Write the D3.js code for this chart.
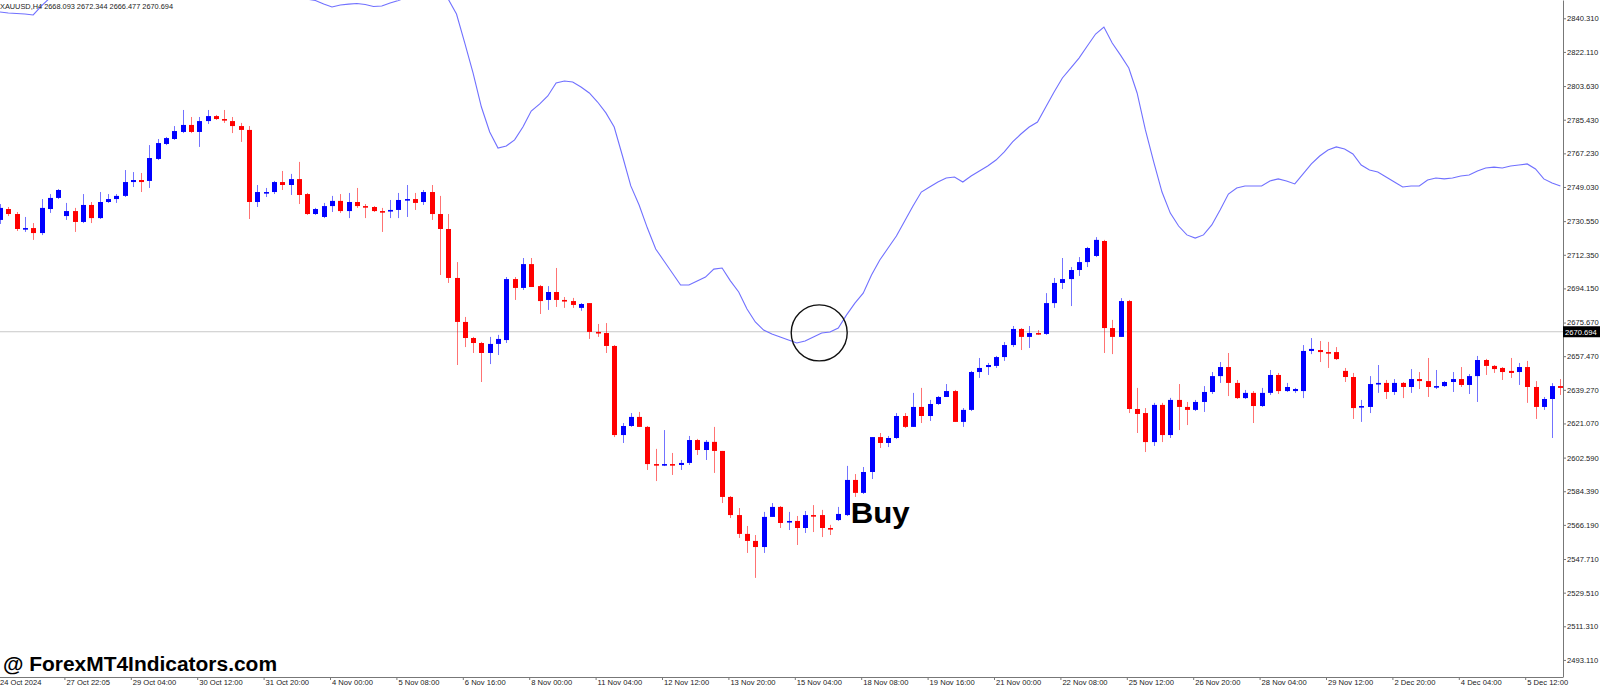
<!DOCTYPE html>
<html>
<head>
<meta charset="utf-8">
<script src="https://d3js.org/d3.v7.min.js"></script>
<style>
  body { margin: 0; background: #fff; }
  #chart { width: 1600px; height: 689px; }
  text { font-family: "Liberation Sans", Arial, sans-serif; }
  .axis text { fill: #222; font-size: 7.6px; }
  .axis line { stroke: #777; }
  .axis path { stroke: #777; }
</style>
</head>
<body>
<div id="chart"></div>
<script>
// ---- data ----
const symbol = "XAUUSD,H4";
const lastQuote = ["2668.093", "2672.344", "2666.477", "2670.694"];
const bidPrice = 2670.694;

// one label every 8 bars (32 hours)
const dateLabels = ["24 Oct 2024", "27 Oct 22:05", "29 Oct 04:00", "30 Oct 12:00", "31 Oct 20:00",
  "4 Nov 00:00", "5 Nov 08:00", "6 Nov 16:00", "8 Nov 00:00", "11 Nov 04:00", "12 Nov 12:00",
  "13 Nov 20:00", "15 Nov 04:00", "18 Nov 08:00", "19 Nov 16:00", "21 Nov 00:00", "22 Nov 08:00",
  "25 Nov 12:00", "26 Nov 20:00", "28 Nov 04:00", "29 Nov 12:00", "2 Dec 20:00", "4 Dec 04:00",
  "5 Dec 12:00"];

const priceTicks = ["2840.310", "2822.110", "2803.630", "2785.430", "2767.230", "2749.030",
  "2730.550", "2712.350", "2694.150", "2675.670", "2657.470", "2639.270", "2621.070", "2602.590",
  "2584.390", "2566.190", "2547.710", "2529.510", "2511.310", "2493.110"];

const opens = [
  2731.2, 2737.1, 2734.4, 2726.3, 2726.8, 2724.1, 2737.1, 2743.1, 2733.3, 2736.0,
  2730.1, 2739.3, 2732.2, 2740.9, 2742.5, 2744.2, 2751.7, 2752.8, 2752.3, 2764.2,
  2772.3, 2775.0, 2778.8, 2782.6, 2778.8, 2784.7, 2787.4, 2785.8, 2784.7, 2782.0,
  2779.9, 2740.9, 2745.8, 2746.3, 2751.7, 2750.1, 2753.3, 2745.2, 2734.4, 2732.8,
  2738.7, 2741.5, 2736.0, 2740.9, 2738.7, 2738.2, 2736.0, 2736.0, 2736.6, 2742.0,
  2742.5, 2740.9, 2746.3, 2734.4, 2726.3, 2699.8, 2676.0, 2667.3, 2664.6, 2659.2,
  2664.1, 2666.2, 2699.2, 2694.4, 2707.3, 2695.4, 2687.9, 2692.2, 2687.9, 2687.3,
  2683.6, 2686.2, 2670.6, 2670.0, 2663.0, 2614.8, 2619.7, 2624.6, 2619.2, 2599.1,
  2598.6, 2599.1, 2598.6, 2599.7, 2612.1, 2606.7, 2611.1, 2606.2, 2581.3, 2571.5,
  2561.3, 2557.5, 2554.2, 2570.5, 2575.9, 2567.7, 2568.3, 2564.5, 2571.5, 2571.5,
  2564.5, 2568.8, 2571.5, 2590.5, 2583.5, 2594.8, 2613.7, 2610.5, 2613.2, 2625.1,
  2619.2, 2630.0, 2625.1, 2631.6, 2635.4, 2638.6, 2621.9, 2628.4, 2648.9, 2651.6,
  2652.2, 2657.0, 2663.5, 2672.2, 2667.9, 2670.0, 2669.5, 2686.2, 2697.1, 2699.2,
  2704.1, 2708.4, 2711.7, 2719.8, 2672.7, 2667.9, 2687.3, 2628.9, 2626.7, 2611.0,
  2631.1, 2614.8, 2633.8, 2630.0, 2628.4, 2632.7, 2638.1, 2646.7, 2651.6, 2643.0,
  2634.8, 2637.6, 2630.5, 2637.6, 2647.3, 2638.6, 2638.6, 2638.6, 2660.3, 2660.8,
  2659.7, 2659.7, 2649.5, 2646.2, 2630.0, 2630.0, 2642.4, 2643.0, 2638.1, 2643.0,
  2640.8, 2645.1, 2644.0, 2640.8, 2641.3, 2643.5, 2645.1, 2641.9, 2646.7, 2655.4,
  2652.2, 2651.1, 2649.5, 2648.9, 2651.6, 2640.8, 2630.0, 2634.3, 2641.3];

const highs = [
  2739.8, 2738.2, 2735.5, 2732.8, 2729.5, 2742.5, 2745.2, 2747.9, 2740.4, 2737.7,
  2745.2, 2740.9, 2746.3, 2745.2, 2745.2, 2758.2, 2757.1, 2756.6, 2771.7, 2775.0,
  2776.1, 2782.0, 2790.7, 2786.9, 2786.9, 2790.7, 2788.0, 2790.7, 2786.9, 2783.7,
  2782.0, 2750.1, 2748.5, 2752.3, 2757.7, 2756.1, 2762.6, 2745.8, 2737.7, 2740.4,
  2744.2, 2745.2, 2745.8, 2748.5, 2739.8, 2738.7, 2737.7, 2742.0, 2745.8, 2750.1,
  2745.8, 2747.4, 2750.1, 2744.2, 2734.4, 2708.4, 2678.7, 2667.9, 2665.2, 2667.9,
  2669.0, 2700.3, 2700.3, 2710.6, 2710.6, 2696.0, 2695.4, 2705.2, 2689.5, 2689.0,
  2686.2, 2686.2, 2674.9, 2675.4, 2663.5, 2621.3, 2626.7, 2627.3, 2619.7, 2607.3,
  2617.5, 2605.1, 2601.3, 2614.3, 2612.7, 2612.1, 2619.2, 2606.2, 2581.8, 2575.3,
  2565.6, 2560.7, 2573.2, 2578.0, 2576.4, 2573.2, 2571.0, 2573.7, 2576.9, 2574.3,
  2566.2, 2575.9, 2598.1, 2593.7, 2597.5, 2613.7, 2615.9, 2614.3, 2626.7, 2626.7,
  2637.6, 2640.3, 2633.8, 2635.9, 2642.4, 2639.2, 2629.4, 2649.5, 2656.5, 2653.8,
  2657.6, 2665.1, 2673.8, 2672.7, 2673.8, 2671.6, 2691.6, 2699.8, 2710.6, 2705.7,
  2711.1, 2716.6, 2721.9, 2720.4, 2677.1, 2688.9, 2687.9, 2640.3, 2629.4, 2632.2,
  2632.2, 2634.9, 2642.4, 2632.7, 2633.8, 2641.3, 2648.9, 2654.3, 2659.2, 2644.6,
  2639.2, 2638.6, 2640.3, 2650.0, 2648.4, 2643.0, 2640.3, 2663.5, 2667.3, 2665.7,
  2665.2, 2662.4, 2651.1, 2648.4, 2633.8, 2646.7, 2652.7, 2644.6, 2645.1, 2643.5,
  2650.5, 2648.9, 2656.5, 2650.0, 2644.0, 2648.9, 2651.6, 2647.8, 2657.6, 2656.0,
  2652.7, 2651.6, 2656.5, 2653.8, 2654.9, 2644.0, 2635.4, 2642.9, 2645.1];

const lows = [
  2729.0, 2733.3, 2725.2, 2724.7, 2720.4, 2723.0, 2735.0, 2742.5, 2731.2, 2724.7,
  2729.5, 2729.5, 2731.7, 2740.4, 2740.4, 2743.6, 2749.0, 2746.3, 2748.5, 2763.6,
  2771.7, 2774.5, 2778.2, 2778.2, 2770.7, 2783.1, 2785.3, 2783.7, 2778.2, 2773.4,
  2731.7, 2738.2, 2743.6, 2745.2, 2747.4, 2744.7, 2739.8, 2733.9, 2733.9, 2732.2,
  2735.5, 2735.0, 2732.2, 2737.7, 2732.2, 2735.5, 2724.7, 2732.2, 2732.2, 2732.8,
  2736.6, 2739.3, 2731.2, 2701.4, 2697.1, 2652.7, 2662.4, 2659.2, 2643.5, 2653.2,
  2658.1, 2664.6, 2687.9, 2693.3, 2694.9, 2680.3, 2682.5, 2684.1, 2683.6, 2683.6,
  2682.0, 2666.8, 2667.9, 2659.2, 2613.7, 2610.5, 2619.2, 2619.2, 2595.9, 2589.9,
  2598.0, 2593.2, 2595.9, 2598.6, 2604.0, 2601.3, 2594.3, 2578.0, 2569.9, 2559.1,
  2551.0, 2537.5, 2551.0, 2570.5, 2564.5, 2563.4, 2555.3, 2561.8, 2562.3, 2559.6,
  2560.7, 2568.3, 2571.0, 2581.3, 2582.9, 2591.0, 2607.8, 2608.3, 2612.7, 2618.6,
  2619.2, 2621.3, 2622.4, 2631.1, 2635.4, 2621.9, 2619.2, 2627.8, 2645.7, 2647.3,
  2651.1, 2654.9, 2662.4, 2660.8, 2661.9, 2669.0, 2669.0, 2683.6, 2693.8, 2684.6,
  2700.9, 2705.7, 2711.1, 2659.2, 2658.6, 2667.9, 2626.7, 2615.9, 2605.6, 2608.9,
  2611.0, 2613.2, 2617.5, 2620.2, 2627.8, 2627.3, 2637.0, 2643.0, 2635.9, 2634.3,
  2634.3, 2621.3, 2630.0, 2636.5, 2637.0, 2638.1, 2637.6, 2634.8, 2658.6, 2654.3,
  2651.1, 2655.4, 2643.5, 2623.5, 2621.9, 2626.7, 2637.6, 2634.3, 2636.5, 2634.8,
  2637.6, 2639.7, 2635.4, 2639.7, 2640.8, 2638.1, 2640.8, 2637.0, 2632.7, 2647.3,
  2648.4, 2644.6, 2645.7, 2641.9, 2632.2, 2623.5, 2628.4, 2613.2, 2636.5];

const closes = [
  2737.7, 2734.4, 2726.3, 2726.8, 2724.1, 2737.7, 2743.1, 2747.4, 2736.0, 2730.1,
  2739.3, 2732.2, 2740.9, 2742.5, 2744.2, 2751.7, 2752.8, 2751.7, 2764.7, 2772.8,
  2775.5, 2779.3, 2782.6, 2778.8, 2784.7, 2787.4, 2785.8, 2785.3, 2782.0, 2779.9,
  2740.9, 2746.3, 2746.3, 2751.7, 2750.1, 2753.3, 2744.7, 2734.4, 2737.1, 2738.7,
  2741.5, 2736.0, 2740.9, 2738.7, 2738.2, 2736.0, 2735.5, 2736.6, 2742.0, 2742.5,
  2740.4, 2746.3, 2734.4, 2726.3, 2699.8, 2676.0, 2667.3, 2664.6, 2659.2, 2664.1,
  2666.8, 2699.2, 2694.4, 2707.3, 2694.9, 2687.3, 2692.2, 2687.9, 2687.3, 2685.2,
  2685.7, 2670.6, 2670.0, 2663.0, 2614.8, 2619.7, 2624.6, 2619.2, 2599.1, 2598.6,
  2599.1, 2598.6, 2599.7, 2612.1, 2606.7, 2611.1, 2606.2, 2581.3, 2571.5, 2561.3,
  2557.5, 2554.2, 2570.5, 2575.9, 2567.2, 2568.3, 2564.5, 2571.5, 2571.0, 2564.5,
  2564.0, 2572.1, 2590.5, 2583.5, 2594.8, 2613.7, 2610.5, 2613.2, 2625.1, 2619.2,
  2630.0, 2625.1, 2631.6, 2635.4, 2638.6, 2621.9, 2628.4, 2648.9, 2651.1, 2652.7,
  2657.0, 2663.5, 2672.2, 2667.9, 2670.0, 2669.5, 2686.2, 2697.1, 2699.2, 2704.1,
  2708.4, 2716.0, 2720.4, 2672.7, 2667.9, 2687.3, 2628.9, 2626.2, 2611.0, 2631.1,
  2614.8, 2633.8, 2630.0, 2628.4, 2632.7, 2638.1, 2646.7, 2651.6, 2643.0, 2634.8,
  2637.6, 2630.5, 2637.6, 2647.3, 2638.6, 2640.8, 2639.7, 2660.3, 2661.4, 2659.7,
  2659.2, 2655.9, 2646.2, 2629.4, 2630.5, 2642.4, 2643.0, 2638.1, 2643.0, 2640.8,
  2645.1, 2644.0, 2640.8, 2641.3, 2643.5, 2645.1, 2641.9, 2646.7, 2655.4, 2652.2,
  2650.5, 2648.9, 2648.4, 2651.6, 2640.8, 2630.0, 2634.3, 2641.3, 2640.3];

// the blue indicator line (goes off the top of the chart at the left)
const maLine = [
  2843.7, 2843.2, 2842.9, 2842.6, 2842.1, 2847.0, 2851.3, 2854.5, 2857.8, 2861.0,
  2863.7, 2866.4, 2868.6, 2870.8, 2872.4, 2874.0, 2875.1, 2876.2, 2876.7, 2877.3,
  2877.3, 2876.7, 2875.6, 2874.6, 2872.9, 2871.3, 2869.2, 2867.0, 2864.8, 2862.7,
  2860.5, 2858.3, 2856.7, 2855.1, 2854.0, 2852.9, 2851.8, 2850.7, 2849.9, 2848.0,
  2846.4, 2847.5, 2848.0, 2848.3, 2847.8, 2846.7, 2847.0, 2848.6, 2849.9, 2851.8,
  2853.5, 2854.5, 2854.5, 2852.9, 2850.7, 2842.6, 2826.9, 2810.7, 2792.3, 2778.8,
  2770.1, 2771.2, 2774.5, 2781.5, 2790.1, 2793.9, 2798.3, 2805.3, 2806.4, 2805.8,
  2803.1, 2799.9, 2795.0, 2789.1, 2781.5, 2765.8, 2749.6, 2739.3, 2726.8, 2715.5,
  2709.0, 2702.5, 2696.0, 2696.0, 2698.2, 2700.3, 2704.6, 2705.2, 2698.2, 2692.2,
  2683.0, 2676.0, 2671.6, 2669.5, 2667.8, 2666.2, 2664.6, 2665.7, 2667.8, 2670.0,
  2670.6, 2672.7, 2679.8, 2686.2, 2691.6, 2701.4, 2709.5, 2716.0, 2722.5, 2730.6,
  2738.7, 2746.3, 2749.0, 2751.7, 2753.9, 2754.4, 2751.7, 2755.0, 2757.7, 2760.4,
  2763.6, 2768.0, 2773.4, 2777.7, 2781.5, 2784.2, 2792.3, 2800.4, 2808.0, 2813.4,
  2818.8, 2825.3, 2831.8, 2835.6, 2826.9, 2820.4, 2813.4, 2799.9, 2779.9, 2762.6,
  2746.3, 2734.9, 2727.9, 2723.1, 2721.4, 2723.1, 2728.5, 2736.6, 2745.2, 2748.5,
  2749.6, 2749.6, 2749.6, 2752.3, 2753.4, 2752.3, 2750.7, 2756.1, 2761.5, 2765.8,
  2769.0, 2770.7, 2769.6, 2766.9, 2760.9, 2758.2, 2757.1, 2754.4, 2751.7, 2749.0,
  2749.6, 2749.6, 2752.8, 2753.9, 2753.4, 2753.9, 2755.0, 2755.5, 2757.7, 2759.3,
  2759.8, 2759.3, 2760.4, 2760.9, 2761.5, 2758.8, 2753.4, 2751.2, 2749.6];

// annotations: circle where the line turns up, "Buy" under the breakout candle
const signalBar = 98.7, signalPrice = 2670.1;
const buyBar = 102.5, buyPrice = 2567.3;

//1. MAKE SVG CANVAS
const width = document.querySelector("#chart").clientWidth;
const height = document.querySelector("#chart").clientHeight;
const margin = {top: 0, left: 0, right: 37, bottom: 12};
const plotW = width - margin.right;
const plotH = height - margin.bottom;

const svg = d3.select("#chart")
    .append("svg")
    .attr("width", width)
    .attr("height", height);

svg.append("defs").append("clipPath")
    .attr("id", "plot")
    .append("rect")
    .attr("x", 0).attr("y", 0)
    .attr("width", plotW).attr("height", plotH);

//2. DATA TABLE
const bars = opens.map(function(o, i) {
    return {i: i, o: o, h: highs[i], l: lows[i], c: closes[i]};
});

//3. SCALES
const barStep = 8.3;
const xScale = d3.scaleLinear()
    .domain([0, bars.length - 1])
    .range([0, barStep * (bars.length - 1)]);

const yScale = d3.scaleLinear()
    .domain([2483.87, 2850.21])
    .range([plotH, 0]);

//4. AXES
const yAxis = svg.append("g")
    .attr("class", "axis")
    .attr("transform", `translate(${plotW},0)`)
    .call(d3.axisRight(yScale)
        .tickValues(priceTicks.map(Number))
        .tickFormat(function(d, i) { return priceTicks[i]; })
        .tickSize(3)
        .tickSizeOuter(0));
yAxis.selectAll("text").attr("x", 4);

const xAxis = svg.append("g")
    .attr("class", "axis")
    .attr("transform", `translate(0,${plotH})`)
    .call(d3.axisBottom(xScale)
        .tickValues(dateLabels.map(function(d, i) { return i * 8; }))
        .tickFormat(function(d, i) { return dateLabels[i]; })
        .tickSize(3)
        .tickSizeOuter(0));
xAxis.select(".domain").remove();
xAxis.selectAll("line").attr("x1", -2).attr("x2", -2);
xAxis.selectAll("text")
    .attr("text-anchor", "start")
    .attr("x", -0.5)
    .attr("y", 2.5);

svg.append("line")
    .attr("x1", 0).attr("x2", plotW)
    .attr("y1", plotH + 0.5).attr("y2", plotH + 0.5)
    .style("stroke", "#777");

//5. BID LINE + PRICE TAG
svg.append("line")
    .attr("x1", 0).attr("x2", plotW)
    .attr("y1", yScale(bidPrice)).attr("y2", yScale(bidPrice))
    .style("stroke", "#c8c8c8")
    .style("stroke-width", 1);

svg.append("rect")
    .attr("x", plotW)
    .attr("y", yScale(bidPrice) - 5.5)
    .attr("width", margin.right)
    .attr("height", 11)
    .style("fill", "#000");

svg.append("text")
    .attr("x", plotW + 2)
    .attr("y", yScale(bidPrice) + 2.8)
    .style("fill", "#fff")
    .style("font-size", "7.6px")
    .text(bidPrice.toFixed(3));

//6. CANDLES
const candles = svg.append("g").attr("clip-path", "url(#plot)");
const colorOf = function(d) { return d.c >= d.o ? "#0000ff" : "#ff0000"; };

candles.selectAll(".wick")
    .data(bars)
    .enter()
    .append("line")
        .attr("class", "wick")
        .attr("x1", function(d) { return Math.round(xScale(d.i)) + 0.5; })
        .attr("x2", function(d) { return Math.round(xScale(d.i)) + 0.5; })
        .attr("y1", function(d) { return yScale(d.h); })
        .attr("y2", function(d) { return yScale(d.l); })
        .style("stroke", colorOf)
        .style("stroke-opacity", 0.55)
        .style("stroke-width", 1);

candles.selectAll(".body")
    .data(bars)
    .enter()
    .append("rect")
        .attr("class", "body")
        .attr("x", function(d) { return Math.round(xScale(d.i)) - 2; })
        .attr("y", function(d) { return yScale(Math.max(d.o, d.c)); })
        .attr("width", 5)
        .attr("height", function(d) { return Math.max(1.6, Math.abs(yScale(d.o) - yScale(d.c))); })
        .style("fill", colorOf);

//7. INDICATOR LINE
const line = d3.line()
    .x(function(d, i) { return xScale(i); })
    .y(function(d) { return yScale(d); });

svg.append("path")
    .datum(maLine)
    .attr("clip-path", "url(#plot)")
    .attr("d", line)
    .style("fill", "none")
    .style("stroke", "#7070ff")
    .style("stroke-width", 1.1);

//8. LABELS
svg.append("text")
    .attr("x", 0)
    .attr("y", 9)
    .attr("textLength", 173)
    .attr("lengthAdjust", "spacingAndGlyphs")
    .style("font-size", "8px")
    .style("fill", "#222")
    .text(symbol + "  " + lastQuote.join(" "));

svg.append("circle")
    .attr("cx", xScale(signalBar))
    .attr("cy", yScale(signalPrice))
    .attr("r", 28)
    .style("fill", "none")
    .style("stroke", "#111")
    .style("stroke-width", 1.4);

svg.append("text")
    .attr("x", xScale(buyBar))
    .attr("y", yScale(buyPrice))
    .attr("textLength", 59)
    .attr("lengthAdjust", "spacingAndGlyphs")
    .style("font-size", "30px")
    .style("font-weight", "bold")
    .style("fill", "#000")
    .text("Buy");

svg.append("text")
    .attr("x", 3)
    .attr("y", 671)
    .attr("textLength", 274)
    .attr("lengthAdjust", "spacingAndGlyphs")
    .style("font-size", "20px")
    .style("font-weight", "bold")
    .style("fill", "#000")
    .text("@ ForexMT4Indicators.com");
</script>
</body>
</html>
